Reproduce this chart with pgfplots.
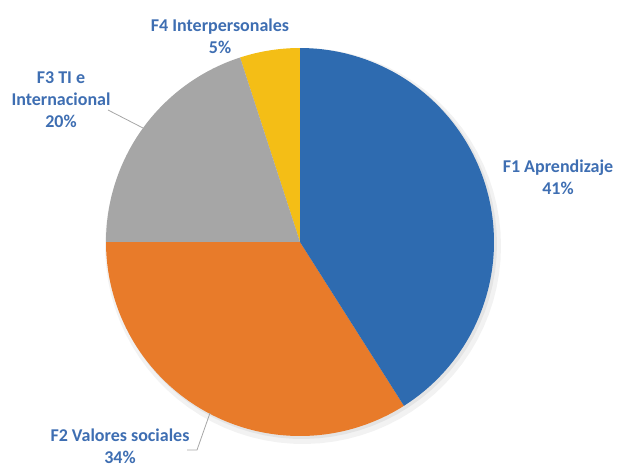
\documentclass[border=0pt]{standalone}
\usepackage{fontspec}
\setmainfont{Carlito}
\usepackage{pgfplots}
\pgfplotsset{compat=1.18}

\definecolor{cBlue}{RGB}{46,107,176}
\definecolor{cOrange}{RGB}{232,123,42}
\definecolor{cGray}{RGB}{166,166,166}
\definecolor{cYellow}{RGB}{244,190,22}
\definecolor{cText}{RGB}{62,110,178}

\tikzset{lbl/.style={font=\bfseries\fontsize{18}{22}\selectfont, text=cText, align=center, inner sep=0pt}}

% shares in percent
\def\pA{41} % F1 Aprendizaje
\def\pB{34} % F2 Valores sociales
\def\pC{20} % F3 TI e Internacional
\def\pD{5}  % F4 Interpersonales

\begin{document}
\begin{tikzpicture}
\pgfmathsetmacro\aD{90+3.6*\pD}
\pgfmathsetmacro\aC{\aD+3.6*\pC}
\pgfmathsetmacro\aB{\aC+3.6*\pB}
\pgfmathsetmacro\aA{\aB+3.6*\pA}
\def\cx{300}\def\cy{242}\def\r{194}
\begin{axis}[
    hide axis, scale only axis,
    width=618pt, height=467pt,
    xmin=0, xmax=618, ymin=0, ymax=467,
    y dir=reverse,
    clip=false,
    samples=90, variable=\t,
    every axis plot/.append style={draw=none},
]
% soft shadow
\addplot[fill=black, fill opacity=0.05, domain=0:360] ({\cx+3+(\r+4)*cos(t)},{\cy+4-(\r+4)*sin(t)}) -- cycle;
\addplot[fill=black, fill opacity=0.06, domain=0:360] ({\cx+2+(\r+1)*cos(t)},{\cy+2-(\r+1)*sin(t)}) -- cycle;
% slices
\addplot[fill=cYellow, domain=90:\aD]   ({\cx+\r*cos(t)},{\cy-\r*sin(t)}) -- (axis cs:\cx,\cy) -- cycle;
\addplot[fill=cGray,   domain=\aD:\aC]  ({\cx+\r*cos(t)},{\cy-\r*sin(t)}) -- (axis cs:\cx,\cy) -- cycle;
\addplot[fill=cOrange, domain=\aC:\aB]  ({\cx+\r*cos(t)},{\cy-\r*sin(t)}) -- (axis cs:\cx,\cy) -- cycle;
\addplot[fill=cBlue,   domain=\aB:\aA]  ({\cx+\r*cos(t)},{\cy-\r*sin(t)}) -- (axis cs:\cx,\cy) -- cycle;
% leader lines
\addplot[draw=gray!70, line width=0.8pt] coordinates {(108,110) (143,128)};
\addplot[draw=gray!70, line width=0.8pt] coordinates {(187,450) (197,450) (210,413)};
% labels
\node[lbl] at (axis cs:558,177) {F1 Aprendizaje\\41\%};
\node[lbl] at (axis cs:120,446) {F2 Valores sociales\\34\%};
\node[lbl] at (axis cs:61,100) {F3 TI e\\Internacional\\20\%};
\node[lbl] at (axis cs:220,36) {F4 Interpersonales\\5\%};
\end{axis}
\pgfresetboundingbox
\useasboundingbox (0,0) rectangle (618pt,467pt);
\end{tikzpicture}
\end{document}
